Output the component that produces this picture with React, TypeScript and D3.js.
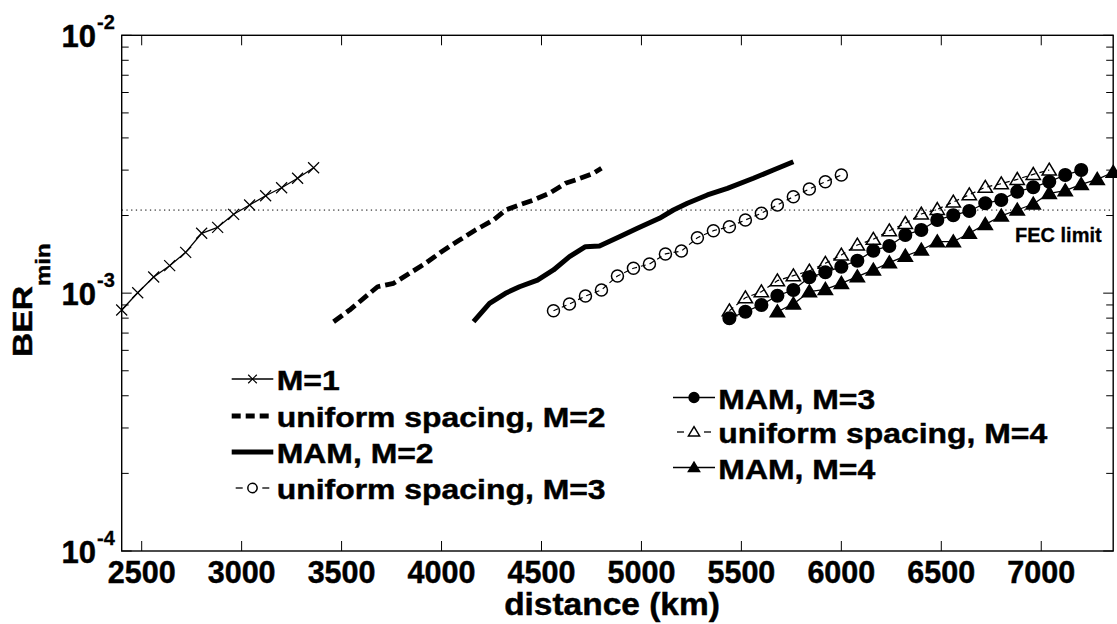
import React from "react";
import * as d3 from "d3";

// ---------- data ----------
const m1Dist = [2400, 2480, 2560, 2640, 2720, 2800, 2880, 2960, 3040, 3120, 3200, 3280, 3360];
const m1Ber = [8.6e-4, 1.004e-3, 1.155e-3, 1.278e-3, 1.44e-3, 1.707e-3, 1.8e-3, 2.022e-3, 2.198e-3, 2.387e-3, 2.564e-3, 2.789e-3, 3.065e-3];

const uni2Dist = [3460, 3540, 3680, 3760, 3840, 3920, 4000, 4090, 4170, 4260, 4320, 4390, 4460, 4540, 4620, 4680, 4760, 4800];
const uni2Ber = [7.75e-4, 8.6e-4, 1.059e-3, 1.092e-3, 1.194e-3, 1.306e-3, 1.448e-3, 1.607e-3, 1.758e-3, 1.922e-3, 2.101e-3, 2.198e-3, 2.298e-3, 2.44e-3, 2.667e-3, 2.765e-3, 2.917e-3, 3.05e-3];

const mam2Dist = [4160, 4240, 4320, 4390, 4480, 4560, 4640, 4720, 4790, 4890, 4980, 5090, 5160, 5230, 5330, 5430, 5560, 5660, 5760];
const mam2Ber = [7.75e-4, 9.13e-4, 9.99e-4, 1.059e-3, 1.124e-3, 1.23e-3, 1.385e-3, 1.514e-3, 1.524e-3, 1.655e-3, 1.784e-3, 1.951e-3, 2.101e-3, 2.231e-3, 2.403e-3, 2.55e-3, 2.789e-3, 3.003e-3, 3.234e-3];

const uni3Dist = [4560, 4640, 4720, 4800, 4880, 4960, 5040, 5120, 5200, 5280, 5360, 5440, 5520, 5600, 5680, 5760, 5840, 5920, 6000];
const uni3Ber = [8.55e-4, 9.08e-4, 9.75e-4, 1.029e-3, 1.166e-3, 1.249e-3, 1.297e-3, 1.419e-3, 1.457e-3, 1.641e-3, 1.747e-3, 1.81e-3, 1.922e-3, 2.04e-3, 2.198e-3, 2.366e-3, 2.535e-3, 2.705e-3, 2.872e-3];

const mam3Dist = [5440, 5520, 5600, 5680, 5760, 5840, 5920, 6000, 6080, 6160, 6240, 6320, 6400, 6480, 6560, 6640, 6720, 6800, 6880, 6960, 7040, 7120, 7200];
const mam3Ber = [7.99e-4, 8.47e-4, 9.0e-4, 9.77e-4, 1.029e-3, 1.152e-3, 1.205e-3, 1.266e-3, 1.336e-3, 1.461e-3, 1.524e-3, 1.681e-3, 1.758e-3, 1.922e-3, 2.004e-3, 2.083e-3, 2.231e-3, 2.298e-3, 2.475e-3, 2.574e-3, 2.705e-3, 2.872e-3, 3.003e-3];

const uni4Dist = [5440, 5520, 5600, 5680, 5760, 5840, 5920, 6000, 6080, 6160, 6240, 6320, 6400, 6480, 6560, 6640, 6720, 6800, 6880, 6960, 7040];
const uni4Ber = [8.55e-4, 9.6e-4, 1.013e-3, 1.118e-3, 1.169e-3, 1.219e-3, 1.306e-3, 1.406e-3, 1.537e-3, 1.618e-3, 1.747e-3, 1.866e-3, 2.028e-3, 2.114e-3, 2.257e-3, 2.409e-3, 2.574e-3, 2.658e-3, 2.764e-3, 2.89e-3, 3.003e-3];

const mam4Dist = [5680, 5760, 5840, 5920, 6000, 6080, 6160, 6240, 6320, 6400, 6480, 6560, 6640, 6720, 6800, 6880, 6960, 7040, 7120, 7200, 7280, 7360];
const mam4Ber = [8.47e-4, 9.08e-4, 1.013e-3, 1.035e-3, 1.092e-3, 1.158e-3, 1.23e-3, 1.313e-3, 1.393e-3, 1.47e-3, 1.583e-3, 1.583e-3, 1.707e-3, 1.849e-3, 1.992e-3, 2.101e-3, 2.217e-3, 2.439e-3, 2.497e-3, 2.643e-3, 2.764e-3, 2.943e-3];

const fecLimit = 2.1e-3;
const xTickValues = [2500, 3000, 3500, 4000, 4500, 5000, 5500, 6000, 6500, 7000];
const yMajorTicks = [1e-4, 1e-3, 1e-2];
const yMajorExp = ["-4", "-3", "-2"];

const legendLeft = ["M=1", "uniform spacing, M=2", "MAM, M=2", "uniform spacing, M=3"];
const legendRight = ["MAM, M=3", "uniform spacing, M=4", "MAM, M=4"];

// ---------- layout ----------
const W = 1117;
const H = 624;
const L = 121.7, R = 1113.2, T = 35.3, B = 551;
const FONT = "'Liberation Sans', Arial, Helvetica, sans-serif";
const TXT_STROKE = 0.45;

type Marker = "x" | "o" | "o-fill" | "tri" | "tri-fill" | "none";

function MarkerShape({ kind, cx, cy, s = 1 }: { kind: Marker; cx: number; cy: number; s?: number }) {
  if (kind === "x") {
    const r = 5.5 * s;
    return (
      <path d={`M${cx - r},${cy - r}L${cx + r},${cy + r}M${cx - r},${cy + r}L${cx + r},${cy - r}`} stroke="#000" strokeWidth={1.2} fill="none" />
    );
  }
  if (kind === "o" || kind === "o-fill") {
    return (
      <circle cx={cx} cy={cy} r={(kind === "o-fill" ? 6.3 : 6) * s} fill={kind === "o-fill" ? "#000" : "none"} stroke="#000" strokeWidth={1.5} />
    );
  }
  if (kind === "tri" || kind === "tri-fill") {
    const a = 6.8 * s;
    return (
      <path
        d={`M${cx},${cy - a}L${cx + a * 1.05},${cy + a * 0.75}L${cx - a * 1.05},${cy + a * 0.75}Z`}
        fill={kind === "tri-fill" ? "#000" : "none"}
        stroke="#000"
        strokeWidth={1.5}
        strokeLinejoin="miter"
      />
    );
  }
  return null;
}

type Series = {
  dist: number[];
  ber: number[];
  width: number;
  dash?: string;
  marker: Marker;
};

const series: Series[] = [
  { dist: m1Dist, ber: m1Ber, width: 1.3, marker: "x" },
  { dist: uni2Dist, ber: uni2Ber, width: 4.8, dash: "11,5", marker: "none" },
  { dist: mam2Dist, ber: mam2Ber, width: 5, marker: "none" },
  { dist: uni3Dist, ber: uni3Ber, width: 1.2, dash: "5,4", marker: "o" },
  { dist: mam3Dist, ber: mam3Ber, width: 1.3, marker: "o-fill" },
  { dist: uni4Dist, ber: uni4Ber, width: 1.2, dash: "5,4", marker: "tri" },
  { dist: mam4Dist, ber: mam4Ber, width: 1.3, marker: "tri-fill" },
];

export default function App() {
  const x = d3.scaleLinear().domain([2400, 7360]).range([L, R]);
  const y = d3.scaleLog().domain([1e-4, 1e-2]).range([B, T]);

  const line = d3
    .line<[number, number]>()
    .x((d) => x(d[0]))
    .y((d) => y(d[1]));

  const minorTicks = y.ticks().filter((t) => !yMajorTicks.some((m) => Math.abs(m - t) / m < 1e-6));

  const legendLeftX0 = 231.7, legendLeftX1 = 273.3, legendLeftText = 276.7;
  const legendLeftBase = [390, 427, 463, 499];
  const legendRightX0 = 673, legendRightX1 = 715, legendRightText = 718.3;
  const legendRightBase = [408.5, 443, 478.5];

  const leftSeries = [series[0], series[1], series[2], series[3]];
  const rightSeries = [series[4], series[5], series[6]];

  const renderLegend = (
    items: string[],
    ser: Series[],
    x0: number,
    x1: number,
    tx: number,
    bases: number[]
  ) =>
    items.map((label, i) => {
      const s = ser[i];
      const ly = bases[i] - 11;
      const thin = s.width < 2;
      return (
        <g key={label}>
          {s.marker === "none" ? (
            <line x1={x0} x2={x1} y1={ly} y2={ly} stroke="#000" strokeWidth={s.width} strokeDasharray={s.dash ? "9,5" : undefined} />
          ) : s.dash ? (
            <g>
              <line x1={x0 + 4} x2={x0 + 11} y1={ly} y2={ly} stroke="#000" strokeWidth={1.3} />
              <line x1={x1 - 11} x2={x1 - 4} y1={ly} y2={ly} stroke="#000" strokeWidth={1.3} />
            </g>
          ) : (
            <line x1={x0} x2={x1} y1={ly} y2={ly} stroke="#000" strokeWidth={thin ? 1.3 : s.width} />
          )}
          <MarkerShape kind={s.marker} cx={(x0 + x1) / 2} cy={ly} s={0.78} />
          <text
            transform={`translate(${tx},${bases[i]}) scale(1.12,1)`}
            fontFamily={FONT}
            fontWeight="bold"
            fontSize={28.5}
            fill="#000"
            stroke="#000"
            strokeWidth={TXT_STROKE}
          >
            {label}
          </text>
        </g>
      );
    });

  return (
    <svg
      width={W}
      height={H}
      viewBox={`0 0 ${W} ${H}`}
      style={{ position: "absolute", left: 0, top: 0, background: "#fff" }}
    >
      <rect x={0} y={0} width={W} height={H} fill="#fff" />

      {/* FEC limit dotted line */}
      <line x1={L} x2={R} y1={y(fecLimit)} y2={y(fecLimit)} stroke="#000" strokeWidth={1} strokeDasharray="1.3,3.4" />
      <text x={1015} y={241.7} fontFamily={FONT} fontWeight="bold" fontSize={20} fill="#000" stroke="#000" strokeWidth={0.3}>
        FEC limit
      </text>

      {/* series */}
      {series.map((s, i) => {
        const pts: [number, number][] = s.dist.map((d, j) => [d, s.ber[j]]);
        return (
          <g key={i}>
            <path d={line(pts) || ""} fill="none" stroke="#000" strokeWidth={s.width} strokeDasharray={s.dash} strokeLinejoin="round" />
            {s.marker !== "none" &&
              pts.map((p, j) => <MarkerShape key={j} kind={s.marker} cx={x(p[0])} cy={y(p[1])} />)}
          </g>
        );
      })}

      {/* axes frame */}
      <rect x={L} y={T} width={R - L} height={B - T} fill="none" stroke="#000" strokeWidth={1.4} />

      {/* x ticks */}
      {xTickValues.map((v) => (
        <g key={v}>
          <line x1={x(v)} x2={x(v)} y1={B} y2={B - 10} stroke="#000" strokeWidth={1} />
          <line x1={x(v)} x2={x(v)} y1={T} y2={T + 10} stroke="#000" strokeWidth={1} />
          <text x={x(v)} y={583} textAnchor="middle" fontFamily={FONT} fontWeight="bold" fontSize={30.5} fill="#000" stroke="#000" strokeWidth={TXT_STROKE}>
            {v}
          </text>
        </g>
      ))}

      {/* y major ticks */}
      {yMajorTicks.map((v, i) => (
        <g key={v}>
          <line x1={L} x2={L + 10} y1={y(v)} y2={y(v)} stroke="#000" strokeWidth={1} />
          <line x1={R} x2={R - 10} y1={y(v)} y2={y(v)} stroke="#000" strokeWidth={1} />
          <text x={96} y={y(v) + 12} textAnchor="end" fontFamily={FONT} fontWeight="bold" fontSize={31} fill="#000" stroke="#000" strokeWidth={TXT_STROKE}>
            10
          </text>
          <text x={97} y={y(v) - 6} textAnchor="start" fontFamily={FONT} fontWeight="bold" fontSize={20} fill="#000" stroke="#000" strokeWidth={0.3}>
            {yMajorExp[i]}
          </text>
        </g>
      ))}
      {/* y minor ticks */}
      {minorTicks.map((v) => (
        <g key={v}>
          <line x1={L} x2={L + 7} y1={y(v)} y2={y(v)} stroke="#000" strokeWidth={1} />
          <line x1={R} x2={R - 7} y1={y(v)} y2={y(v)} stroke="#000" strokeWidth={1} />
        </g>
      ))}

      {/* axis labels */}
      <text
        transform={`translate(612,615) scale(1.08,1)`}
        textAnchor="middle"
        fontFamily={FONT}
        fontWeight="bold"
        fontSize={31}
        fill="#000"
        stroke="#000"
        strokeWidth={TXT_STROKE}
      >
        distance (km)
      </text>
      <text
        transform={`translate(32,357) rotate(-90) scale(1.2,1)`}
        fontFamily={FONT}
        fontWeight="bold"
        fontSize={28}
        fill="#000"
        stroke="#000"
        strokeWidth={TXT_STROKE}
      >
        BER
        <tspan dy={18} fontSize={20}>
          min
        </tspan>
      </text>

      {/* legends */}
      {renderLegend(legendLeft, leftSeries, legendLeftX0, legendLeftX1, legendLeftText, legendLeftBase)}
      {renderLegend(legendRight, rightSeries, legendRightX0, legendRightX1, legendRightText, legendRightBase)}
    </svg>
  );
}
